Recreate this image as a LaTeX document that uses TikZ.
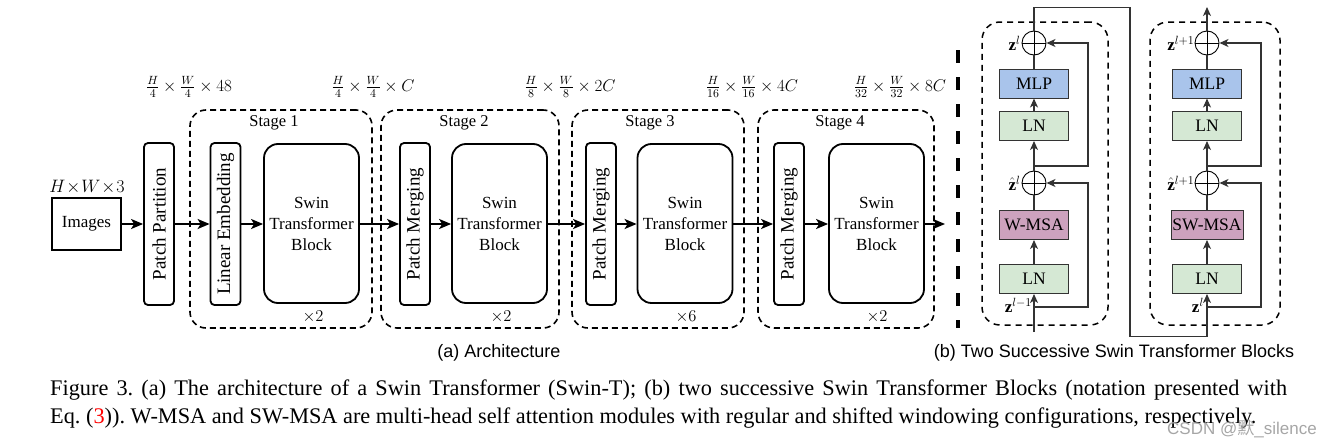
\documentclass[tikz,border=0pt]{standalone}
\usepackage{fix-cm}
\usepackage{fontspec}
\setmainfont{Liberation Serif}
\newfontfamily\capsans{Liberation Sans}
\newfontfamily\cjkfont{Noto Sans CJK SC}
\usetikzlibrary{arrows.meta,calc}
\definecolor{mlpblue}{HTML}{A9C4EB}
\definecolor{lngreen}{HTML}{D5E8D4}
\definecolor{msapink}{HTML}{CDA2BE}
\definecolor{linegray}{HTML}{333333}
\frenchspacing
\begin{document}
\begin{tikzpicture}[x=1pt,y=-1pt,
  thinbox/.style={draw, line width=1.8pt, rounded corners=4pt, minimum width=30pt, minimum height=162pt, inner sep=0pt},
  swinbox/.style={draw, line width=1.8pt, rounded corners=14pt, minimum width=95pt, minimum height=159pt, align=center, inner sep=0pt, font=\fontsize{17}{21}\selectfont},
  rottext/.style={rotate=90, font=\fontsize{19}{22}\selectfont, inner sep=0pt},
  stagebox/.style={draw, line width=1.6pt, dash pattern=on 6pt off 4pt, rounded corners=16pt, inner sep=0pt},
  mainarrow/.style={line width=1.8pt, -{Stealth[length=12pt,width=10pt,inset=3pt]}},
  lbl/.style={font=\fontsize{16.5}{20}\selectfont, inner sep=0pt},
  dimlbl/.style={font=\fontsize{17}{20}\selectfont, inner sep=0pt},
  rbox/.style={draw=linegray, line width=1pt, minimum width=69pt, minimum height=29pt, inner sep=0pt, font=\fontsize{17.5}{20}\selectfont},
  addc/.style={draw=black, line width=0.9pt, circle, minimum size=24pt, inner sep=0pt},
  rline/.style={draw=linegray, line width=1.1pt},
  rarrow/.style={draw=linegray, line width=1.1pt, -{Stealth[length=9pt,width=8pt,inset=2.5pt]}},
  rstage/.style={draw, line width=1.5pt, dash pattern=on 6pt off 5pt, rounded corners=18pt, inner sep=0pt},
  zlbl/.style={font=\fontsize{17}{20}\selectfont, inner sep=1pt}
]
\useasboundingbox (0,0) rectangle (1322,447);

% ---------------- (a) Architecture ----------------
\node[draw, line width=1.8pt, minimum width=69pt, minimum height=52pt, inner sep=0pt, font=\fontsize{17}{20}\selectfont] (img) at (86.5,224) {Images};
\node[font=\fontsize{18}{20}\selectfont, inner sep=0pt] (imgdim) at (87,187) {$H\!\times\! W\!\times\! 3$};

\node[thinbox] (pp) at (159,224) {};
\node[rottext] (pptext) at (pp) {Patch Partition};

% stage boxes
\node[stagebox, minimum width=182pt, minimum height=218pt] (st1) at (281,219) {};
\node[stagebox, minimum width=178pt, minimum height=218pt] (st2) at (470,219) {};
\node[stagebox, minimum width=172pt, minimum height=218pt] (st3) at (658,219) {};
\node[stagebox, minimum width=176pt, minimum height=218pt] (st4) at (846,219) {};

\node[lbl] (st1l) at (274,123) {Stage 1};
\node[lbl] (st2l) at (464,123) {Stage 2};
\node[lbl] (st3l) at (650,123) {Stage 3};
\node[lbl] (st4l) at (840,123) {Stage 4};

\node[thinbox] (le) at (225.5,224) {};
\node[rottext] (letext) at (le) {Linear Embedding};
\node[swinbox] (sw1) at (311.5,223.5) {Swin\\Transformer\\Block};

\node[thinbox] (pm2) at (415,224) {};
\node[rottext] (pm2text) at (pm2) {Patch Merging};
\node[swinbox] (sw2) at (499.5,223.5) {Swin\\Transformer\\Block};

\node[thinbox] (pm3) at (601,224) {};
\node[rottext] (pm3text) at (pm3) {Patch Merging};
\node[swinbox] (sw3) at (685,223.5) {Swin\\Transformer\\Block};

\node[thinbox] (pm4) at (789,224) {};
\node[rottext] (pm4text) at (pm4) {Patch Merging};
\node[swinbox] (sw4) at (876.5,223.5) {Swin\\Transformer\\Block};

\node[lbl] (x1) at (313,317) {$\times 2$};
\node[lbl] (x2) at (501,317) {$\times 2$};
\node[lbl] (x3) at (686,317) {$\times 6$};
\node[lbl] (x4) at (877,317) {$\times 2$};

\node[dimlbl] (d0) at (189,87) {$\frac{H}{4}\times\frac{W}{4}\times 48$};
\node[dimlbl] (d1) at (373,87) {$\frac{H}{4}\times\frac{W}{4}\times C$};
\node[dimlbl] (d2) at (570,87) {$\frac{H}{8}\times\frac{W}{8}\times 2C$};
\node[dimlbl] (d3) at (752,87) {$\frac{H}{16}\times\frac{W}{16}\times 4C$};
\node[dimlbl] (d4) at (900,87) {$\frac{H}{32}\times\frac{W}{32}\times 8C$};

\coordinate (outa) at (945,224);
\draw[mainarrow] (img.east) -- (pp.west);
\draw[mainarrow] (pp.east) -- (le.west);
\draw[mainarrow] (le.east) -- (sw1.west |- le.east);
\draw[mainarrow] (sw1.east |- le.east) -- (pm2.west);
\draw[mainarrow] (pm2.east) -- (sw2.west |- pm2.east);
\draw[mainarrow] (sw2.east |- pm2.east) -- (pm3.west);
\draw[mainarrow] (pm3.east) -- (sw3.west |- pm3.east);
\draw[mainarrow] (sw3.east |- pm3.east) -- (pm4.west);
\draw[mainarrow] (pm4.east) -- (sw4.west |- pm4.east);
\draw[mainarrow] (sw4.east |- pm4.east) -- (outa);

% separator
\coordinate (septop) at (958,50);
\coordinate (sepbot) at (958,328);
\draw[line width=4pt, dash pattern=on 13pt off 14pt] (septop) -- (sepbot);

% ---------------- (b) Two successive blocks ----------------
\node[rstage, minimum width=126pt, minimum height=303pt] (b1) at (1045,173.5) {};
\node[rstage, minimum width=130pt, minimum height=303pt] (b2) at (1215,173.5) {};

% block 1
\node[addc] (add1) at (1034,43) {};
\node[rbox, fill=mlpblue] (mlp1) at (1034,83.5) {MLP};
\node[rbox, fill=lngreen] (ln1b) at (1034,126) {LN};
\node[addc] (addh1) at (1034,183) {};
\node[rbox, fill=msapink] (msa1) at (1034,225) {W-MSA};
\node[rbox, fill=lngreen] (ln1a) at (1034,279) {LN};
\draw[line width=0.9pt] (add1.north) -- (add1.south) (add1.west) -- (add1.east);
\draw[line width=0.9pt] (addh1.north) -- (addh1.south) (addh1.west) -- (addh1.east);

% block 2
\node[addc] (add2) at (1207,43) {};
\node[rbox, fill=mlpblue] (mlp2) at (1207,83.5) {MLP};
\node[rbox, fill=lngreen] (ln2b) at (1207,126) {LN};
\node[addc] (addh2) at (1207,183) {};
\node[rbox, fill=msapink, minimum width=72pt] (msa2) at (1207,225) {SW-MSA};
\node[rbox, fill=lngreen] (ln2a) at (1207,279) {LN};
\draw[line width=0.9pt] (add2.north) -- (add2.south) (add2.west) -- (add2.east);
\draw[line width=0.9pt] (addh2.north) -- (addh2.south) (addh2.west) -- (addh2.east);

% labels
\node[zlbl, anchor=east] (lz1) at (add1.west) {$\mathbf{z}^{l}$};
\node[zlbl, anchor=east] (lzh1) at (addh1.west) {$\hat{\mathbf{z}}^{l}$};
\node[zlbl, anchor=east, inner sep=0pt] (lz2) at (add2.west) {$\mathbf{z}^{l+1}$};
\node[zlbl, anchor=east, inner sep=0pt] (lzh2) at (addh2.west) {$\hat{\mathbf{z}}^{l+1}$};

% connectors block 1
\coordinate (in1) at (1034,332);
\coordinate (sk1) at (1034,307);
\coordinate (sk2) at (1034,166);
\node[zlbl, anchor=east] (lzin1) at ($(sk1)+(-1,-2)$) {$\mathbf{z}^{l-1}$};
\draw[rarrow] (in1) -- (ln1a.south);
\draw[rarrow] (ln1a.north) -- (msa1.south);
\draw[rline] (msa1.north) -- (addh1.south);
\draw[rarrow] (addh1.north) -- (ln1b.south);
\draw[rarrow] (ln1b.north) -- (mlp1.south);
\draw[rline] (mlp1.north) -- (add1.south);
\draw[rarrow] (sk1) -- ++(54,0) |- (addh1.east);
\draw[rarrow] (sk2) -- ++(54,0) |- (add1.east);

% link between blocks
\draw[rarrow] (add1.north) -- ++(0,-23) -- ++(96,0) -- ++(0,329) -- ++(77,0) -- (ln2a.south);

% connectors block 2
\coordinate (sk3) at (1207,307);
\coordinate (sk4) at (1207,166);
\coordinate (out2) at (1207,7);
\node[zlbl, anchor=east] (lzin2) at ($(sk3)+(-2,-2)$) {$\mathbf{z}^{l}$};
\draw[rarrow] (ln2a.north) -- (msa2.south);
\draw[rline] (msa2.north) -- (addh2.south);
\draw[rarrow] (addh2.north) -- (ln2b.south);
\draw[rarrow] (ln2b.north) -- (mlp2.south);
\draw[rline] (mlp2.north) -- (add2.south);
\draw[rarrow] (sk3) -- ++(54,0) |- (addh2.east);
\draw[rarrow] (sk4) -- ++(54,0) |- (add2.east);
\draw[rarrow] (add2.north) -- (out2);

% ---------------- captions ----------------
\node[font=\capsans\fontsize{18}{20}\selectfont, inner sep=0pt] (capa) at (499,353) {(a) Architecture};
\node[font=\capsans\fontsize{18}{20}\selectfont, inner sep=0pt] (capb) at (1114,353) {(b) Two Successive Swin Transformer Blocks};

\node[anchor=base west, inner sep=0pt, font=\fontsize{22.3}{28}\selectfont] (cap1) at (50,395) {\makebox[1237pt][s]{Figure 3. (a) The architecture of a Swin Transformer (Swin-T); (b) two successive Swin Transformer Blocks (notation presented with}};
\node[anchor=base west, inner sep=0pt, font=\fontsize{22.3}{28}\selectfont] (cap2) at (50,423) {Eq. (\textcolor{red}{3})). W-MSA and SW-MSA are multi-head self attention modules with regular and shifted windowing configurations, respectively.};

\node[anchor=west, inner sep=0pt, text=black!35, font=\capsans\fontsize{17}{19}\selectfont] (wm) at (1167,429) {CSDN @{\cjkfont 默}\_silence};
\end{tikzpicture}
\end{document}
